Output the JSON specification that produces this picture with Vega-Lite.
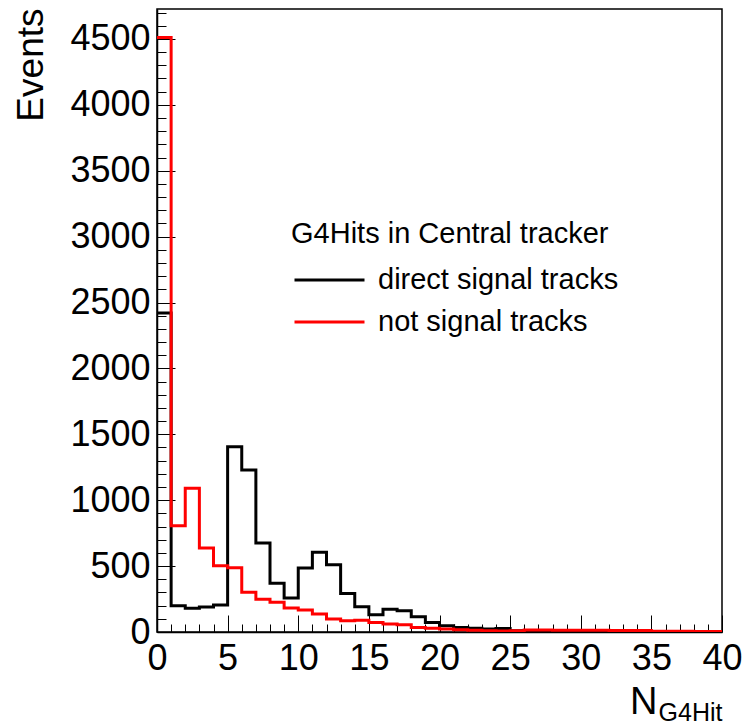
{
  "$schema": "https://vega.github.io/schema/vega-lite/v6.json",
  "autosize": "none",
  "width": 565,
  "height": 623,
  "padding": {"left": 157, "top": 9, "right": 22, "bottom": 95},
  "background": "white",
  "config": {
    "view": {"stroke": "#000000", "strokeWidth": 1.5},
    "font": "Liberation Sans",
    "axis": {"grid": false, "labelFont": "Liberation Sans", "titleFont": "Liberation Sans", "labelColor": "#000000", "titleColor": "#000000", "domainColor": "#000000", "tickColor": "#000000", "titleFontWeight": "normal"}
  },
  "data": {"values": [
    {"N": 0, "Events": 2420, "s": "direct signal tracks"},
    {"N": 1, "Events": 200, "s": "direct signal tracks"},
    {"N": 2, "Events": 180, "s": "direct signal tracks"},
    {"N": 3, "Events": 190, "s": "direct signal tracks"},
    {"N": 4, "Events": 205, "s": "direct signal tracks"},
    {"N": 5, "Events": 1406, "s": "direct signal tracks"},
    {"N": 6, "Events": 1229, "s": "direct signal tracks"},
    {"N": 7, "Events": 675, "s": "direct signal tracks"},
    {"N": 8, "Events": 369, "s": "direct signal tracks"},
    {"N": 9, "Events": 258, "s": "direct signal tracks"},
    {"N": 10, "Events": 486, "s": "direct signal tracks"},
    {"N": 11, "Events": 605, "s": "direct signal tracks"},
    {"N": 12, "Events": 511, "s": "direct signal tracks"},
    {"N": 13, "Events": 292, "s": "direct signal tracks"},
    {"N": 14, "Events": 191, "s": "direct signal tracks"},
    {"N": 15, "Events": 130, "s": "direct signal tracks"},
    {"N": 16, "Events": 172, "s": "direct signal tracks"},
    {"N": 17, "Events": 162, "s": "direct signal tracks"},
    {"N": 18, "Events": 116, "s": "direct signal tracks"},
    {"N": 19, "Events": 73, "s": "direct signal tracks"},
    {"N": 20, "Events": 48, "s": "direct signal tracks"},
    {"N": 21, "Events": 35, "s": "direct signal tracks"},
    {"N": 22, "Events": 28, "s": "direct signal tracks"},
    {"N": 23, "Events": 23, "s": "direct signal tracks"},
    {"N": 24, "Events": 26, "s": "direct signal tracks"},
    {"N": 25, "Events": 10, "s": "direct signal tracks"},
    {"N": 26, "Events": 8, "s": "direct signal tracks"},
    {"N": 27, "Events": 7, "s": "direct signal tracks"},
    {"N": 28, "Events": 6, "s": "direct signal tracks"},
    {"N": 29, "Events": 5, "s": "direct signal tracks"},
    {"N": 30, "Events": 5, "s": "direct signal tracks"},
    {"N": 31, "Events": 4, "s": "direct signal tracks"},
    {"N": 32, "Events": 4, "s": "direct signal tracks"},
    {"N": 33, "Events": 3, "s": "direct signal tracks"},
    {"N": 34, "Events": 3, "s": "direct signal tracks"},
    {"N": 35, "Events": 2, "s": "direct signal tracks"},
    {"N": 36, "Events": 2, "s": "direct signal tracks"},
    {"N": 37, "Events": 2, "s": "direct signal tracks"},
    {"N": 38, "Events": 1, "s": "direct signal tracks"},
    {"N": 39, "Events": 1, "s": "direct signal tracks"},
    {"N": 40, "Events": 1, "s": "direct signal tracks"},
    {"N": 0, "Events": 4510, "s": "not signal tracks"},
    {"N": 1, "Events": 806, "s": "not signal tracks"},
    {"N": 2, "Events": 1090, "s": "not signal tracks"},
    {"N": 3, "Events": 637, "s": "not signal tracks"},
    {"N": 4, "Events": 503, "s": "not signal tracks"},
    {"N": 5, "Events": 488, "s": "not signal tracks"},
    {"N": 6, "Events": 301, "s": "not signal tracks"},
    {"N": 7, "Events": 248, "s": "not signal tracks"},
    {"N": 8, "Events": 225, "s": "not signal tracks"},
    {"N": 9, "Events": 182, "s": "not signal tracks"},
    {"N": 10, "Events": 167, "s": "not signal tracks"},
    {"N": 11, "Events": 137, "s": "not signal tracks"},
    {"N": 12, "Events": 99, "s": "not signal tracks"},
    {"N": 13, "Events": 86, "s": "not signal tracks"},
    {"N": 14, "Events": 90, "s": "not signal tracks"},
    {"N": 15, "Events": 73, "s": "not signal tracks"},
    {"N": 16, "Events": 61, "s": "not signal tracks"},
    {"N": 17, "Events": 55, "s": "not signal tracks"},
    {"N": 18, "Events": 35, "s": "not signal tracks"},
    {"N": 19, "Events": 28, "s": "not signal tracks"},
    {"N": 20, "Events": 22, "s": "not signal tracks"},
    {"N": 21, "Events": 17, "s": "not signal tracks"},
    {"N": 22, "Events": 14, "s": "not signal tracks"},
    {"N": 23, "Events": 10, "s": "not signal tracks"},
    {"N": 24, "Events": 8, "s": "not signal tracks"},
    {"N": 25, "Events": 10, "s": "not signal tracks"},
    {"N": 26, "Events": 15, "s": "not signal tracks"},
    {"N": 27, "Events": 15, "s": "not signal tracks"},
    {"N": 28, "Events": 14, "s": "not signal tracks"},
    {"N": 29, "Events": 14, "s": "not signal tracks"},
    {"N": 30, "Events": 13, "s": "not signal tracks"},
    {"N": 31, "Events": 13, "s": "not signal tracks"},
    {"N": 32, "Events": 12, "s": "not signal tracks"},
    {"N": 33, "Events": 12, "s": "not signal tracks"},
    {"N": 34, "Events": 11, "s": "not signal tracks"},
    {"N": 35, "Events": 6, "s": "not signal tracks"},
    {"N": 36, "Events": 5, "s": "not signal tracks"},
    {"N": 37, "Events": 5, "s": "not signal tracks"},
    {"N": 38, "Events": 4, "s": "not signal tracks"},
    {"N": 39, "Events": 4, "s": "not signal tracks"},
    {"N": 40, "Events": 4, "s": "not signal tracks"}
  ]},
  "resolve": {"axis": {"x": "independent", "y": "independent"}},
  "layer": [
    {
      "transform": [{"filter": "datum.s === 'direct signal tracks'"}],
      "mark": {"type": "line", "interpolate": "step-after", "strokeWidth": 3, "strokeJoin": "miter", "clip": true},
      "encoding": {
        "x": {"field": "N", "type": "quantitative", "scale": {"domain": [0, 40], "nice": false, "zero": false},
          "axis": {"orient": "bottom", "values": [0,1,2,3,4,5,6,7,8,9,10,11,12,13,14,15,16,17,18,19,20,21,22,23,24,25,26,27,28,29,30,31,32,33,34,35,36,37,38,39,40],
            "labelExpr": "datum.value % 5 === 0 ? datum.label : ''", "labelFontSize": 36, "labelPadding": 26, "labelOverlap": false, "labelFlush": false, "labelBound": false,
            "tickSize": {"condition": {"test": "datum.value % 5 === 0", "value": -17}, "value": -8},
            "tickWidth": 1, "domainWidth": 1.5,
            "title": "N", "titleFontSize": 38, "titleAlign": "right", "titleAnchor": "end", "titleBaseline": "alphabetic", "titleX": 500, "titleY": 81}},
        "y": {"field": "Events", "type": "quantitative", "scale": {"domain": [0, 4727], "nice": false},
          "axis": {"orient": "left", "values": [0,100,200,300,400,500,600,700,800,900,1000,1100,1200,1300,1400,1500,1600,1700,1800,1900,2000,2100,2200,2300,2400,2500,2600,2700,2800,2900,3000,3100,3200,3300,3400,3500,3600,3700,3800,3900,4000,4100,4200,4300,4400,4500,4600,4700],
            "format": "d", "labelExpr": "datum.value % 500 === 0 ? datum.label : ''", "labelFontSize": 36, "labelPadding": 25, "labelOverlap": false, "labelFlush": false, "labelBound": false,
            "tickSize": {"condition": {"test": "datum.value % 500 === 0", "value": -18}, "value": -9},
            "tickWidth": 1, "domainWidth": 1.5,
            "title": "Events", "titleFontSize": 37, "titleAngle": 270, "titleAlign": "right", "titleBaseline": "alphabetic", "titleX": -115, "titleY": -1}},
        "color": {"field": "s", "type": "nominal",
          "scale": {"domain": ["direct signal tracks", "not signal tracks"], "range": ["#000000", "#ff0000"]},
          "legend": {"orient": "none", "legendX": 134, "legendY": 211, "title": "G4Hits in Central tracker",
            "titleFontSize": 29, "titleFont": "Liberation Sans", "titleFontWeight": "normal", "titleColor": "#000000", "titlePadding": 10, "titleBaseline": "top", "titleLimit": 0,
            "labelFontSize": 29, "labelFont": "Liberation Sans", "labelColor": "#000000", "labelOffset": 12, "labelLimit": 0,
            "symbolType": "stroke", "symbolSize": 4900, "symbolStrokeWidth": 3, "symbolOffset": 2,
            "clipHeight": 42, "rowPadding": 0, "padding": 0}}
      }
    },
    {
      "transform": [{"filter": "datum.s === 'not signal tracks'"}],
      "mark": {"type": "line", "interpolate": "step-after", "strokeWidth": 3, "strokeJoin": "miter", "clip": true},
      "encoding": {
        "x": {"field": "N", "type": "quantitative",
          "axis": {"orient": "bottom", "ticks": false, "labels": false, "domain": false,
            "title": "G4Hit", "titleFontSize": 25, "titleAlign": "right", "titleAnchor": "end", "titleBaseline": "alphabetic", "titleX": 565, "titleY": 88}},
        "y": {"field": "Events", "type": "quantitative", "axis": null},
        "color": {"field": "s", "type": "nominal"}
      }
    }
  ]
}
